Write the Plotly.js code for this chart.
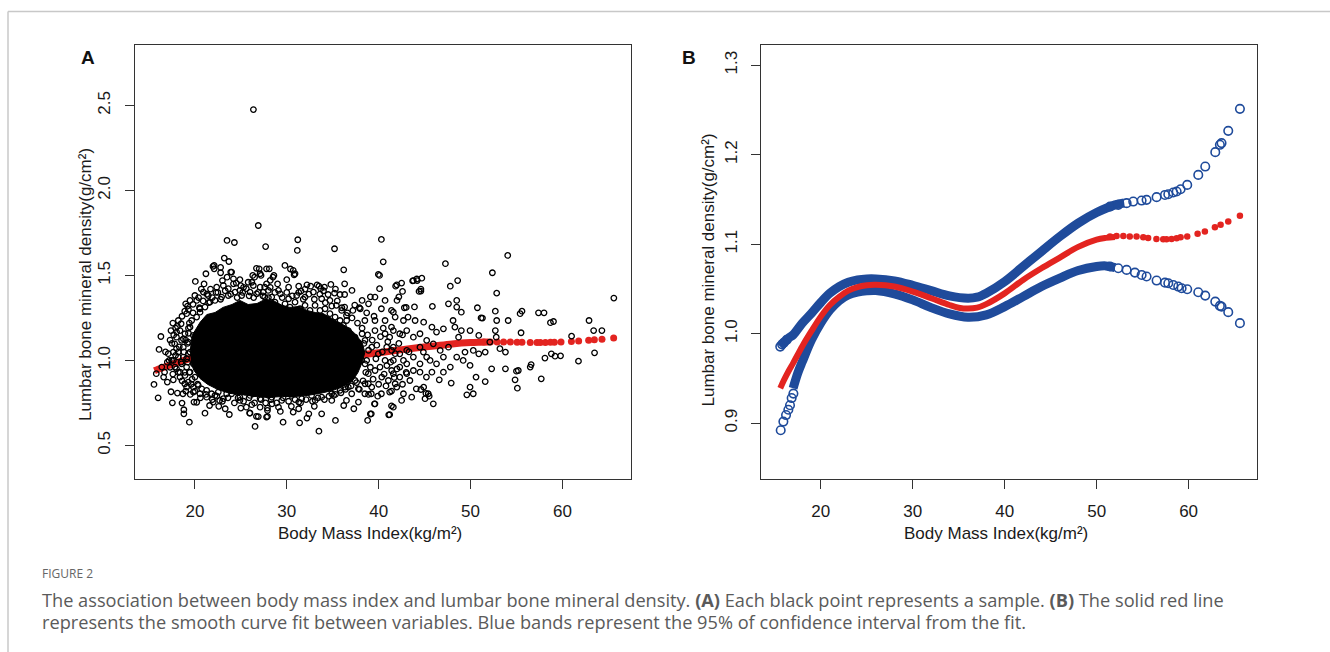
<!DOCTYPE html>
<html>
<head>
<meta charset="utf-8">
<script src="https://cdn.plot.ly/plotly-3.0.1.min.js"></script>
<style>
html,body{margin:0;padding:0;background:#fff;}
#chart{width:1330px;height:652px;}
</style>
</head>
<body>
<div id="chart"></div>
<script>
// ---------------- Panel A: individual samples (BMI, lumbar BMD) ----------------
const sampleBmi = [
26.37,26.9,23.5,24.3,27.7,23.2,23.7,22.1,22.1,22.8,21.2,20.05,24.0,23.5,20.7,21.7,22.3,24.9,24.5,25.3,25.8,26.5,27.1,27.8,27.0,
19.0,18.9,20.2,20.55,17.9,17.4,16.3,18.5,18.2,16.1,17.1,17.5,18.0,17.2,16.4,15.8,16.7,15.55,16.6,17.0,17.65,16.0,17.4,17.55,18.1,
18.7,18.6,18.8,19.4,19.9,18.8,21.1,21.6,23.3,23.75,26.0,26.55,26.9,27.8,22.0,22.7,24.9,25.6,27.1,
31.2,31.15,35.2,40.3,40.5,28.1,29.8,30.7,30.9,36.2,36.3,37.1,35.8,39.97,40.1,39.6,38.2,28.2,28.5,30.0,30.2,31.3,31.55,32.2,33.3,
33.7,34.1,34.5,35.2,27.6,29.1,27.6,37.2,38.0,38.9,40.3,40.7,41.6,36.3,36.5,38.5,39.6,40.7,38.2,39.6,40.7,41.4,41.2,
33.5,29.6,31.4,32.2,35.3,38.8,27.9,30.7,31.3,32.4,33.8,36.2,37.3,36.5,35.1,37.8,38.5,39.6,39.2,40.3,41.2,41.6,39.2,41.1,34.9,
33.1,31.3,29.1,28.4,
36.7,37.43,38.52,39.25,39.97,40.7,41.42,36.7,37.79,38.52,39.61,40.34,41.06,36.7,37.43,38.52,39.25,36.34,37.07,40.15,41.42,40.88,38.16,38.88,37.43,
54.05,47.27,52.38,41.97,42.5,43.78,44.2,44.7,47.8,48.6,44.4,44.6,52.85,42.0,42.8,42.6,45.85,47.6,48.5,48.5,49.0,50.75,51.3,52.7,52.85,
54.1,52.7,52.8,41.4,41.8,42.7,43.2,43.97,44.9,45.8,46.3,47.05,48.1,49.0,49.95,50.9,53.8,53.2,51.6,52.1,50.3,49.4,55.2,53.8,52.3,
50.9,49.95,49.2,48.5,47.8,47.05,46.3,51.6,50.6,49.95,50.3,49.6,47.9,46.6,45.8,45.2,44.9,44.5,44.1,45.05,45.95,45.4,43.6,42.7,42.5,41.97,
41.6,42.3,43.06,43.78,44.5,45.23,45.95,41.6,42.3,43.06,43.78,44.5,45.23,41.6,42.3,43.06,43.78,44.5,45.6,41.6,42.3,43.06,43.4,41.8,42.7,
44.87,46.7,47.05,47.6,48.7,48.3,
65.6,55.4,55.6,57.4,58.0,58.7,59.03,55.5,62.9,63.4,64.3,61.0,63.5,61.75,58.1,58.8,59.2,59.8,55.0,54.85,55.1,56.5,56.6,57.7,
51.15,44.6,45.15,45.5,41.4,41.2,39.1,39.55,26.7,27.9,25.96,20.2,21.97,22.8,23.9,26.7,27.2,26.3,28.6,30.4,30.8,32.6,33.5,34.8,36.3,
37.4,39.1,40.1,41.85,42.2,43.7,44.15,43.0,43.9,44.6,
19.47,20.0,20.92,21.46,22.37,23.1,23.64,24.2,24.9,25.6,26.36,27.1,27.8,28.36,29.3,30.2,31.08,31.99,32.9,33.8,34.7,35.4,35.98,
19.1,19.83,20.55,21.28,22.19,23.1,24.0,24.9,26.0,27.1,28.0,28.36,29.45,30.53,31.63,32.7,33.8,34.89,35.8,36.7,37.8,38.88,
18.38,18.0,17.8,18.2,17.65,18.0,18.38,18.9,18.55,18.74,19.1,
19.4,19.3,19.2,19.3,19.2,19.4,19.7,20.3,19.8,20.5,21.5,
19.1,19.65,20.19,19.47,18.92,19.83,19.29,18.74,19.47,20.01,19.1,19.83,18.56,19.47,18.92,20.01,19.29,20.37,19.83,20.74,21.28,
18.38,17.83,17.47,18.2,17.65,18.74,18.01,20.56,21.1,21.64,22.19,22.91,23.64,24.37,25.09,26.0,26.72,27.45,27.99,
21.83,22.55,23.46,24.55,25.45,26.36,27.45,
27.63,28.17,28.72,29.26,29.81,30.35,30.9,31.44,31.99,32.53,33.08,33.62,34.17,34.7,35.26,35.8,36.16,
27.99,29.08,30.17,31.26,32.35,33.44,34.53,
27.63,28.17,28.72,29.26,29.81,30.35,30.9,31.44,31.99,32.53,33.08,33.62,34.17,34.7,35.26,35.8,36.16,
35.07,35.43,35.8,35.07,35.98,35.61,35.07,35.8,36.34,36.16,36.88,37.07,36.52,
19.3,19.8,20.4,20.9,21.3,21.9,22.5,22.8,23.3,23.9,24.6,25.2,25.9,26.4,26.9,27.4,28.0,28.7,29.5,30.0,30.6,31.3,31.8,32.4,33.0,
33.6,34.2,34.9,35.5,36.0,36.6,37.1,37.7,38.2,38.8,21.0,23.0,25.0,26.2,29.0,32.0,34.0,35.3,24.2,28.2,
19.6,20.0,20.6,21.2,21.9,22.4,23.0,23.6,24.3,24.7,25.3,25.9,26.5,27.2,27.7,28.3,28.9,29.6,30.2,30.9,31.5,32.1,32.8,33.4,34.1,
34.6,35.3,35.9,36.4,37.0,37.6,22.6,25.0,27.9,30.5,33.0,29.3,26.2,
17.7,18.1,18.6,19.2,18.3,18.8,19.0,19.3,17.9,18.5,18.9,18.2,18.6,19.0,19.5,17.6,17.3,17.0,16.8,17.3,17.6,
38.4,38.9,39.3,39.8,40.2,38.7,39.1,39.7,40.4,40.9,38.6,39.4,40.0,40.6,41.3,41.8,42.2,38.3,37.9,38.9,39.9,40.8,41.7,42.0,41.0,
40.5,39.5,38.7,37.9,42.6,43.3,43.0,42.6,41.4
];
const sampleBmd = [
2.476,1.794,1.706,1.694,1.67,1.602,1.582,1.559,1.539,1.516,1.51,1.465,1.52,1.49,1.42,1.42,1.40,1.475,1.455,1.43,1.46,1.49,1.51,1.539,1.539,
1.333,1.29,1.353,1.304,1.19,1.176,1.141,1.216,1.235,1.065,1.04,1.10,1.069,1.0,0.961,0.922,0.931,0.859,0.902,0.873,0.886,0.78,0.816,0.751,0.808,
0.804,0.749,0.71,0.637,0.755,0.686,0.69,0.735,0.716,0.682,0.69,0.612,0.67,0.667,0.755,0.765,0.765,0.725,0.725,
1.71,1.647,1.657,1.712,1.58,1.539,1.559,1.53,1.51,1.533,1.451,1.412,1.388,1.506,1.422,1.373,1.353,1.471,1.49,1.475,1.431,1.437,1.408,1.445,1.445,
1.422,1.431,1.388,1.396,1.431,1.412,1.373,1.294,1.304,1.333,1.304,1.353,1.284,1.314,1.265,1.235,1.235,1.235,1.157,1.176,1.157,1.196,1.137,
0.584,0.637,0.633,0.661,0.647,0.647,0.706,0.696,0.716,0.686,0.686,0.735,0.716,0.765,0.794,0.755,0.804,0.745,0.804,0.804,0.814,0.725,0.686,0.68,0.765,
0.765,0.755,0.725,0.745,
1.176,1.137,1.118,1.078,1.039,1.0,1.059,1.078,1.039,0.98,0.941,0.902,0.882,0.941,0.882,0.863,0.843,0.843,0.804,0.961,0.941,1.078,1.0,0.922,1.02,
1.618,1.569,1.516,1.445,1.455,1.47,1.47,1.484,1.437,1.47,1.406,1.408,1.396,1.353,1.31,1.406,1.318,1.333,1.353,1.314,1.284,1.31,1.249,1.29,1.235,
1.235,1.176,1.137,1.294,1.255,1.235,1.255,1.235,1.225,1.196,1.167,1.186,1.235,1.176,1.176,1.147,1.049,1.069,1.049,1.108,1.059,1.049,0.941,0.951,0.951,
1.039,0.971,1.0,1.02,0.961,0.931,0.98,0.876,0.902,0.843,0.804,0.798,0.867,0.886,0.931,0.902,0.843,0.931,0.833,0.775,0.745,0.804,0.784,0.804,0.765,0.843,
1.176,1.157,1.176,1.137,1.157,1.118,1.098,1.078,1.039,1.059,1.02,1.078,1.02,1.0,0.961,0.98,0.941,0.98,1.0,0.922,0.902,0.922,0.882,0.863,1.0,
1.049,1.059,1.02,1.078,1.137,1.196,
1.367,1.275,1.29,1.28,1.28,1.222,1.229,1.163,1.235,1.176,1.176,1.143,1.045,0.996,1.014,1.039,1.025,1.027,0.937,0.886,0.837,0.961,0.976,0.892,
1.25,0.829,0.806,0.79,0.733,0.681,0.685,0.744,0.671,0.671,0.691,0.754,1.553,1.547,1.52,1.542,1.5,1.5,1.50,1.538,1.504,1.437,1.437,1.447,1.388,
1.326,1.374,1.5,1.437,1.374,1.468,1.479,1.312,1.315,1.42,
1.353,1.382,1.402,1.382,1.431,1.441,1.422,1.451,1.412,1.422,1.441,1.431,1.451,1.373,1.392,1.363,1.382,1.373,1.402,1.363,1.353,1.324,1.294,
0.843,0.814,0.804,0.784,0.794,0.775,0.804,0.784,0.794,0.775,0.794,0.784,0.765,0.794,0.775,0.794,0.784,0.804,0.824,0.843,0.833,0.863,
1.176,1.137,1.098,1.049,1.0,0.951,0.902,0.863,1.118,1.02,0.961,
1.22,1.16,1.10,1.04,0.99,0.93,0.89,0.86,1.28,1.31,1.34,
1.275,1.235,1.255,1.196,1.157,1.147,1.108,1.078,1.049,1.078,1.01,0.98,0.98,0.931,0.912,0.902,0.873,0.853,0.843,0.833,0.824,
0.931,0.961,1.0,1.02,1.049,1.127,1.167,1.284,1.314,1.343,1.353,1.373,1.382,1.402,1.382,1.402,1.392,1.402,1.412,
0.804,0.814,0.804,0.814,0.814,0.804,0.804,
1.333,1.314,1.343,1.304,1.333,1.314,1.343,1.304,1.324,1.294,1.324,1.294,1.304,1.275,1.255,1.235,1.206,
1.275,1.265,1.275,1.255,1.255,1.245,1.235,
0.843,0.863,0.833,0.853,0.824,0.843,0.814,0.843,0.824,0.853,0.824,0.843,0.833,0.853,0.863,0.873,0.892,
1.196,1.147,1.108,1.049,1.02,0.98,0.931,0.902,0.961,1.059,1.127,1.0,1.235,
1.30,1.33,1.37,1.35,1.39,1.37,1.40,1.36,1.41,1.39,1.37,1.40,1.38,1.37,1.40,1.38,1.37,1.40,1.37,1.40,1.38,1.40,1.36,1.39,1.36,
1.39,1.34,1.32,1.35,1.31,1.28,1.25,1.22,1.19,1.15,1.45,1.47,1.44,1.46,1.45,1.42,1.41,1.42,1.48,1.43,
0.86,0.82,0.78,0.80,0.77,0.79,0.76,0.78,0.75,0.78,0.76,0.78,0.75,0.77,0.75,0.77,0.75,0.78,0.76,0.77,0.75,0.77,0.76,0.78,0.77,
0.79,0.80,0.81,0.83,0.85,0.87,0.73,0.72,0.72,0.73,0.73,0.70,0.74,
1.15,1.20,1.26,1.32,1.08,1.05,1.12,1.19,1.03,0.99,0.93,0.93,0.88,0.82,0.80,0.92,0.96,0.99,1.05,1.12,1.22,
1.10,1.06,1.12,1.09,1.14,1.00,0.96,1.01,1.05,0.97,0.93,0.89,0.86,0.92,0.99,1.04,1.10,0.88,0.83,0.80,0.79,0.85,0.90,0.95,1.11,
1.19,1.26,1.28,1.31,1.15,1.05,0.93,0.86,0.82
];
// outline of the solid, fully overplotted core of the cloud
const coreBmi = [19.47,19.7,20.56,21.3,22.2,23.06,24.04,24.9,25.8,26.76,27.63,28.5,29.5,30.35,31.33,32.2,33.1,33.95,34.9,35.8,36.67,37.4,38.2,38.5,
                 38.2,37.75,37.1,36.1,35.05,33.6,32.2,30.9,29.5,27.95,26.54,25.1,23.82,22.5,21.4,20.56,19.9,19.56];
const coreBmd = [1.047,1.147,1.224,1.27,1.282,1.312,1.329,1.353,1.329,1.335,1.359,1.353,1.324,1.312,1.318,1.294,1.282,1.276,1.247,1.218,1.194,1.159,1.106,1.047,
                 0.988,0.929,0.876,0.847,0.824,0.806,0.794,0.788,0.788,0.782,0.788,0.8,0.806,0.829,0.859,0.894,0.941,0.988];

// ---------------- Smooth curve fit (red) and 95% CI (blue) ----------------
const fitBmi = [15.6,16,16.5,17,18,19,20,21,22,23,24,25,26,28,30,32,34,35,36,37,38,40,42,44,46,48,50,51,52];
const fitBmd = [0.939,0.948,0.958,0.967,0.986,1.003,1.019,1.032,1.041,1.048,1.052,1.054,1.0545,1.0526,1.047,1.0396,1.032,1.029,1.028,1.029,1.033,1.045,1.060,1.073,1.085,1.097,1.105,1.107,1.108];
const fitTailBmi = [51.45,52.17,52.9,53.6,54.34,55.07,55.6,56.5,57.24,57.6,58.15,58.7,59.13,59.85,60.98,61.77,62.86,63.48,64.31,65.58];
const fitTailBmd = [1.1085,1.1092,1.1092,1.1085,1.1085,1.1077,1.107,1.1058,1.1054,1.1054,1.1058,1.1065,1.1077,1.1085,1.1115,1.1141,1.119,1.1216,1.1252,1.1316];

const upperBmi = [15.6,16.5,17,18,19,20,21,22,23,24,25,26,28,30,32,34,36,37,38,40,42,44,46,48,50,52,53];
const upperBmd = [0.9855,0.995,0.9986,1.0117,1.0228,1.0347,1.0452,1.0526,1.0575,1.0601,1.0612,1.0612,1.059,1.054,1.0481,1.0422,1.0396,1.0407,1.0452,1.0582,1.075,1.0919,1.1085,1.1235,1.1353,1.1439,1.146];
const upperPtBmi = [15.6,15.8,16.0,16.3,51.45,52.35,53.26,53.98,54.89,55.43,56.52,57.43,57.79,58.33,58.7,59.13,59.85,61.05,61.81,62.9,63.4,63.58,64.31,65.58];
const upperPtBmd = [0.9855,0.988,0.990,0.993,1.142,1.1439,1.1458,1.1476,1.1487,1.1495,1.1525,1.155,1.1558,1.1577,1.1588,1.1614,1.1662,1.1774,1.1867,1.2028,1.211,1.2129,1.2266,1.2512];

const lowerBmi = [17,17.5,18,19,20,21,22,23,24,25,26,28,30,32,34,36,38,40,42,44,46,48,50,51,52];
const lowerBmd = [0.939,0.9558,0.9687,0.993,1.0117,1.0265,1.0369,1.0433,1.0463,1.0478,1.0481,1.0444,1.0377,1.0291,1.0221,1.0184,1.021,1.0302,1.0414,1.0526,1.062,1.0705,1.075,1.0757,1.0738];
const lowerPtBmi = [15.65,15.94,16.23,16.48,16.66,16.84,17.03,51.45,52.35,53.26,54.16,54.89,55.43,56.52,57.43,57.79,58.33,58.87,59.24,59.85,61.05,61.81,62.9,63.4,63.58,64.31,65.58];
const lowerPtBmd = [0.892,0.9017,0.909,0.915,0.920,0.928,0.933,1.075,1.0731,1.0712,1.0682,1.0656,1.0638,1.0593,1.057,1.0563,1.0544,1.0526,1.0507,1.0496,1.0463,1.0425,1.0358,1.031,1.0302,1.024,1.0117];

// ---------------- Axis ticks ----------------
const xTicks = [20,30,40,50,60];
const yTicksA = [0.5,1.0,1.5,2.0,2.5];
const yTickTextA = ['0.5','1.0','1.5','2.0','2.5'];
const yTicksB = [0.9,1.0,1.1,1.2,1.3];
const yTickTextB = ['0.9','1.0','1.1','1.2','1.3'];

const RED = '#e32420';
const BLUE = '#1f4b9b';
const FONT = 'Liberation Sans, Arial, sans-serif';
const CAP_FONT = 'Open Sans, sans-serif';

const W = 1330, H = 652;
const px = v => v / W;
const py = v => 1 - v / H;

const traces = [
  // Panel A
  {x: fitBmi, y: fitBmd, xaxis:'x', yaxis:'y', mode:'lines', line:{color:RED, width:7, shape:'spline'}, hoverinfo:'skip'},
  {x: fitTailBmi, y: fitTailBmd, xaxis:'x', yaxis:'y', mode:'markers', marker:{color:RED, size:7}, hoverinfo:'skip'},
  {x: coreBmi, y: coreBmd, xaxis:'x', yaxis:'y', mode:'lines', fill:'toself', fillcolor:'#000', line:{color:'#000', width:1}, hoverinfo:'skip'},
  {x: sampleBmi, y: sampleBmd, xaxis:'x', yaxis:'y', mode:'markers', marker:{symbol:'circle-open', color:'#000', size:5.5, line:{width:1.3, color:'#000'}}},
  // Panel B
  {x: upperBmi, y: upperBmd, xaxis:'x2', yaxis:'y2', mode:'lines', line:{color:BLUE, width:9, shape:'spline'}, hoverinfo:'skip'},
  {x: lowerBmi, y: lowerBmd, xaxis:'x2', yaxis:'y2', mode:'lines', line:{color:BLUE, width:9, shape:'spline'}, hoverinfo:'skip'},
  {x: upperPtBmi, y: upperPtBmd, xaxis:'x2', yaxis:'y2', mode:'markers', marker:{symbol:'circle-open', color:BLUE, size:8.5, line:{width:1.6, color:BLUE}}},
  {x: lowerPtBmi, y: lowerPtBmd, xaxis:'x2', yaxis:'y2', mode:'markers', marker:{symbol:'circle-open', color:BLUE, size:8.5, line:{width:1.6, color:BLUE}}},
  {x: fitBmi, y: fitBmd, xaxis:'x2', yaxis:'y2', mode:'lines', line:{color:RED, width:6, shape:'spline'}, hoverinfo:'skip'},
  {x: fitTailBmi, y: fitTailBmd, xaxis:'x2', yaxis:'y2', mode:'markers', marker:{color:RED, size:6.5}, hoverinfo:'skip'}
];

const axisCommon = {
  showgrid:false, zeroline:false, showline:true, linecolor:'#333', linewidth:1, mirror:true,
  ticks:'outside', ticklen:9, tickwidth:1, tickcolor:'#333',
  tickfont:{family:FONT, size:17, color:'#1a1a1a'}
};

function ann(text, x, y, opts) {
  return Object.assign({text:text, xref:'paper', yref:'paper', x:px(x), y:py(y), xanchor:'center', yanchor:'middle', showarrow:false,
    font:{family:FONT, size:17, color:'#1a1a1a'}}, opts || {});
}

const layout = {
  width: W, height: H,
  margin:{l:0,r:0,t:0,b:0},
  paper_bgcolor:'#fff', plot_bgcolor:'#fff',
  showlegend:false,
  xaxis: Object.assign({}, axisCommon, {domain:[px(134.7), px(631.3)], range:[13.45,67.5], tickvals:xTicks, anchor:'y', ticklabelstandoff:8}),
  yaxis: Object.assign({}, axisCommon, {domain:[1-478.6/H, 1-44.6/H], range:[0.305,2.858], tickvals:yTicksA, ticktext:yTickTextA, tickangle:-90, anchor:'x', ticklabelstandoff:8}),
  xaxis2: Object.assign({}, axisCommon, {domain:[px(761.3), px(1257.4)], range:[13.54,67.48], tickvals:xTicks, anchor:'y2', ticklabelstandoff:8}),
  yaxis2: Object.assign({}, axisCommon, {domain:[1-478.6/H, 1-44.6/H], range:[0.838,1.323], tickvals:yTicksB, ticktext:yTickTextB, tickangle:-90, anchor:'x2', ticklabelstandoff:8}),
  shapes:[
    {type:'line', xref:'paper', yref:'paper', x0:px(8), x1:1, y0:py(11.5), y1:py(11.5), line:{color:'#c8c8c8', width:1.5}},
    {type:'line', xref:'paper', yref:'paper', x0:px(8), x1:px(8), y0:py(11.5), y1:0, line:{color:'#c8c8c8', width:1.5}}
  ],
  annotations:[
    ann('<b>A</b>', 87.5, 57, {font:{family:FONT, size:19, color:'#111'}}),
    ann('<b>B</b>', 689, 57, {font:{family:FONT, size:19, color:'#111'}}),
    ann('Body Mass Index(kg/m²)', 370, 533),
    ann('Body Mass Index(kg/m²)', 996, 533),
    ann('Lumbar bone mineral density(g/cm²)', 85, 285, {textangle:-90}),
    ann('Lumbar bone mineral density(g/cm²)', 708, 270.5, {textangle:-90}),
    ann('FIGURE 2', 40, 573, {xanchor:'left', font:{family:CAP_FONT, size:12, color:'#666'}}),
    ann('The association between body mass index and lumbar bone mineral density. <b>(A)</b> Each black point represents a sample. <b>(B)</b> The solid red line', 40, 600, {xanchor:'left', font:{family:CAP_FONT, size:18.2, color:'#5a5a5a'}}),
    ann('represents the smooth curve fit between variables. Blue bands represent the 95% of confidence interval from the fit.', 40, 622, {xanchor:'left', font:{family:CAP_FONT, size:18.2, color:'#5a5a5a'}})
  ]
};

Plotly.newPlot('chart', traces, layout, {displayModeBar:false, staticPlot:true});
</script>
</body>
</html>
